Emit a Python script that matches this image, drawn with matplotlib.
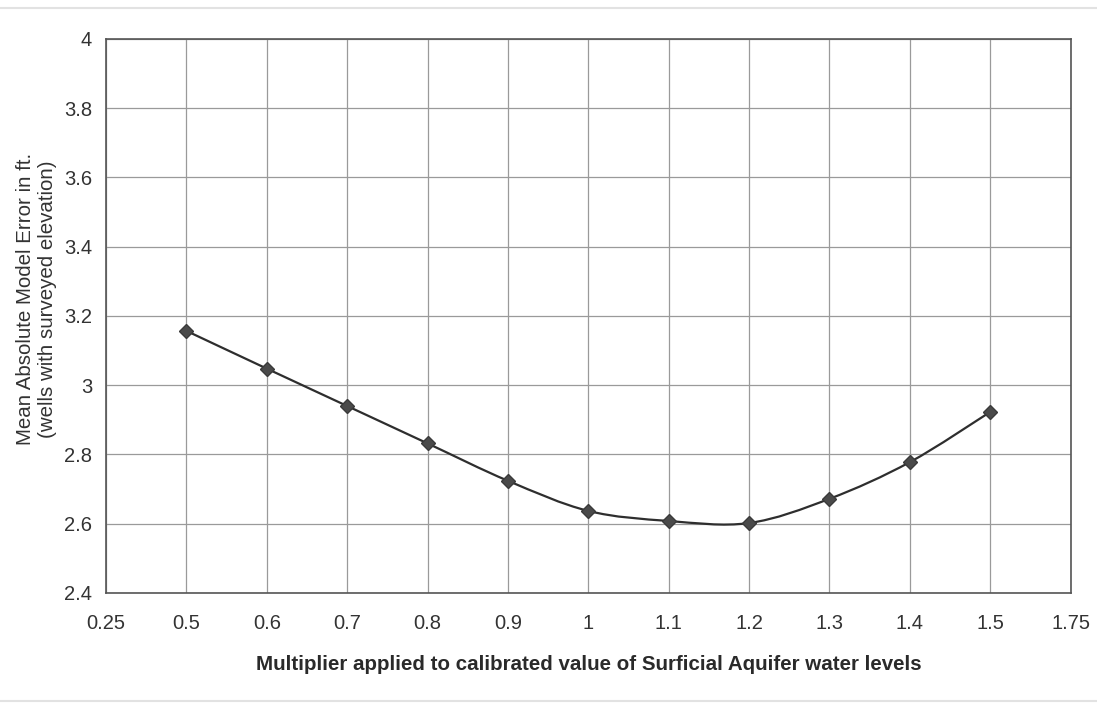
import matplotlib
matplotlib.use("Agg")
import matplotlib.pyplot as plt
from matplotlib.path import Path
from matplotlib.patches import PathPatch
from matplotlib.lines import Line2D

plt.rcParams['font.family'] = ['Liberation Sans', 'DejaVu Sans']

# Category labels along the x axis (evenly spaced, as in the original sheet)
tick_labels = ['0.25', '0.5', '0.6', '0.7', '0.8', '0.9', '1', '1.1', '1.2', '1.3', '1.4', '1.5', '1.75']
# multipliers that have a measurement
multipliers = ['0.5', '0.6', '0.7', '0.8', '0.9', '1', '1.1', '1.2', '1.3', '1.4', '1.5']
mean_abs_error = [3.157, 3.048, 2.940, 2.832, 2.724, 2.637, 2.608, 2.602, 2.672, 2.778, 2.923]

y_ticks = [2.4, 2.6, 2.8, 3.0, 3.2, 3.4, 3.6, 3.8, 4.0]
y_tick_labels = ['2.4', '2.6', '2.8', '3', '3.2', '3.4', '3.6', '3.8', '4']

fig = plt.figure(figsize=(10.97, 7.05), dpi=100)
ax = fig.add_axes([0.0966, 0.1589, 0.8794, 0.7858])

xs = [tick_labels.index(m) for m in multipliers]
ys = mean_abs_error

# smoothed line like the spreadsheet: cubic bezier segments through the points
verts = [(xs[0], ys[0])]
codes = [Path.MOVETO]
n = len(xs)
for i in range(n - 1):
    x0, y0 = (xs[i - 1], ys[i - 1]) if i > 0 else (xs[i], ys[i])
    x1, y1 = xs[i], ys[i]
    x2, y2 = xs[i + 1], ys[i + 1]
    x3, y3 = (xs[i + 2], ys[i + 2]) if i + 2 < n else (xs[i + 1], ys[i + 1])
    c1 = (x1 + (x2 - x0) / 6.0, y1 + (y2 - y0) / 6.0)
    c2 = (x2 - (x3 - x1) / 6.0, y2 - (y3 - y1) / 6.0)
    verts += [c1, c2, (x2, y2)]
    codes += [Path.CURVE4, Path.CURVE4, Path.CURVE4]
ax.add_patch(PathPatch(Path(verts, codes), facecolor='none', edgecolor='#2e2e2e', lw=1.6, zorder=3))

ax.plot(xs, ys, linestyle='none', marker='D', markersize=7.5,
        markerfacecolor='#4a4a4a', markeredgecolor='#3a3a3a', zorder=4)

ax.set_xlim(0, len(tick_labels) - 1)
ax.set_ylim(2.4, 4.0)
ax.set_xticks(range(len(tick_labels)))
ax.set_xticklabels(tick_labels)
ax.set_yticks(y_ticks)
ax.set_yticklabels(y_tick_labels)

ax.grid(True, color='#9a9a9a', lw=0.9)
ax.set_axisbelow(True)
for s in ax.spines.values():
    s.set_color('#555555')
    s.set_linewidth(1.2)

ax.tick_params(axis='both', length=0, labelsize=14.5, colors='#333333')
ax.tick_params(axis='x', pad=15)
ax.tick_params(axis='y', pad=10)

ax.set_xlabel('Multiplier applied to calibrated value of Surficial Aquifer water levels',
              fontsize=14.8, fontweight='bold', color='#2a2a2a', labelpad=16)
ax.set_ylabel('Mean Absolute Model Error in ft.\n(wells with surveyed elevation)',
              fontsize=14.8, color='#333333', labelpad=8, linespacing=1.2)
ax.yaxis.set_label_coords(-0.051, 0.53)

# faint frame of the scanned chart area
fig.add_artist(Line2D([0.0, 1.0], [0.988, 0.988], transform=fig.transFigure, color='#e2e2e2', lw=1.5))
fig.add_artist(Line2D([0.0, 1.0], [0.006, 0.006], transform=fig.transFigure, color='#e2e2e2', lw=1.5))

fig.savefig('out.png', dpi=100, facecolor='white')
